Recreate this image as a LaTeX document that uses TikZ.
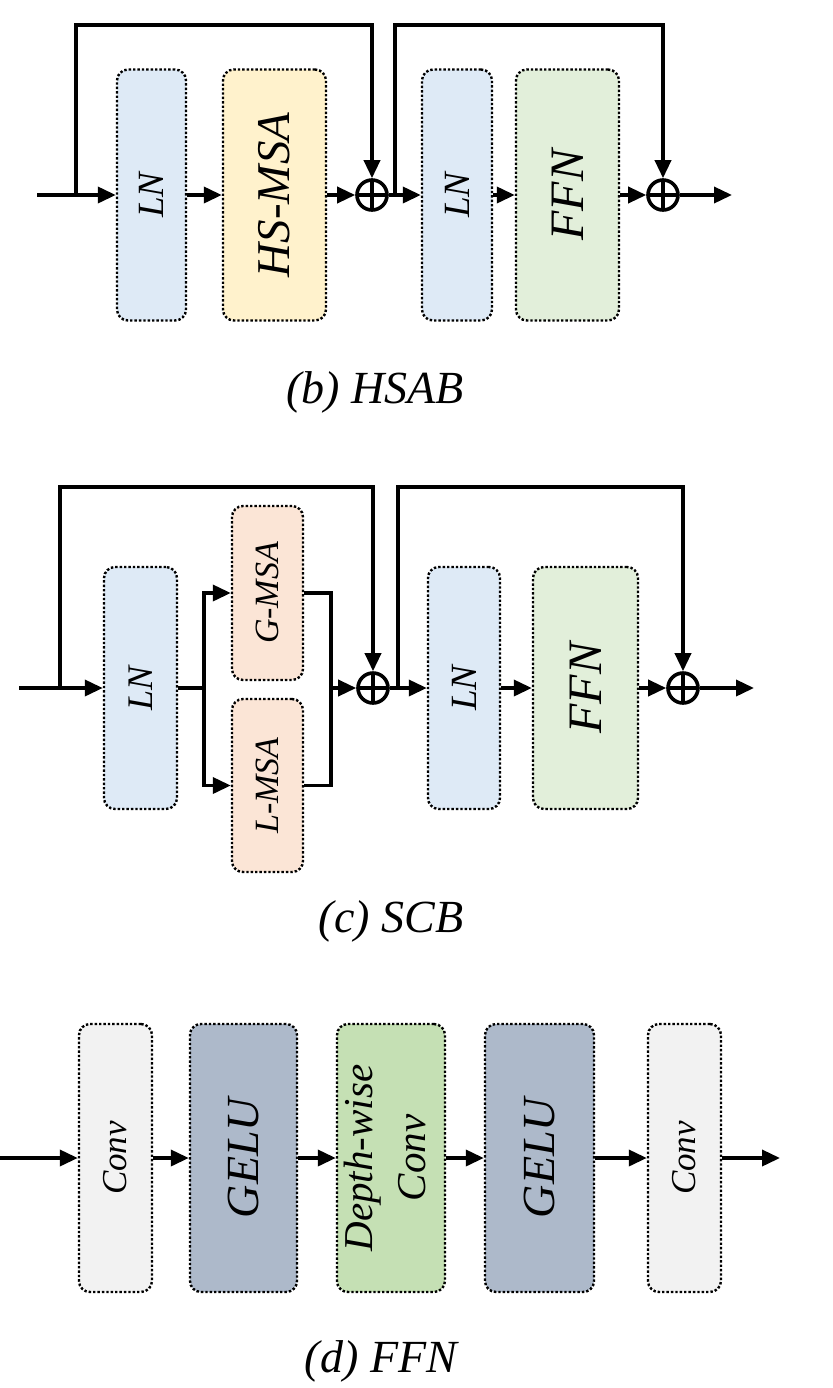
\documentclass[tikz,border=0pt]{standalone}
\usepackage{fontspec}
\usepackage{graphicx}
\setmainfont{Liberation Serif}
\usetikzlibrary{arrows.meta}
\definecolor{lnblue}{HTML}{DEEAF6}
\definecolor{msayel}{HTML}{FFF2CC}
\definecolor{ffngreen}{HTML}{E2EFDA}
\definecolor{msaorg}{HTML}{FBE5D6}
\definecolor{convgray}{HTML}{F2F2F2}
\definecolor{gelublue}{HTML}{ADB9CA}
\definecolor{dwgreen}{HTML}{C5E0B4}
\newcommand{\rtxt}[2]{\rotatebox{90}{\fontsize{#1}{#1}\selectfont\itshape #2}}
\begin{document}
\begin{tikzpicture}[x=0.5pt,y=-0.5pt,
  blk/.style={draw=black, line width=1.2pt, dash pattern=on 1.2pt off 1pt, rounded corners=5.5pt, inner sep=0pt, align=center},
  conn/.style={line width=1.8pt, -{Triangle[length=9pt,width=8pt]}},
  wire/.style={line width=1.8pt},
  plus/.style={circle, draw, line width=1.8pt, minimum size=15pt, inner sep=0pt,
    path picture={\draw[line width=1.8pt] (path picture bounding box.north) -- (path picture bounding box.south)
      (path picture bounding box.west) -- (path picture bounding box.east);}},
  captxt/.style={anchor=base, font=\fontsize{23}{23}\selectfont\itshape}
]
\useasboundingbox (0,0) rectangle (832,1388);

% ---------------- (b) HSAB ----------------
\coordinate (bin) at (37,195);
\coordinate (bs1) at (76,195);
\coordinate (bt1) at (76,25);
\node[blk, fill=lnblue, minimum width=34.5pt, minimum height=125.5pt] (bln1) at (151.5,195) {\rtxt{18.5}{LN}};
\node[blk, fill=msayel, minimum width=51.5pt, minimum height=125.5pt] (bmsa) at (274.5,195) {\rtxt{23.5}{HS-MSA}};
\node[plus] (bp1) at (372,195) {};
\coordinate (bs2) at (395,195);
\coordinate (bt2) at (395,25);
\node[blk, fill=lnblue, minimum width=35pt, minimum height=125.5pt] (bln2) at (457,195) {\rtxt{18.5}{LN}};
\node[blk, fill=ffngreen, minimum width=51.5pt, minimum height=125.5pt] (bffn) at (567.5,195) {\rtxt{24}{FFN}};
\node[plus] (bp2) at (663,195) {};
\coordinate (bout) at (732,195);

\draw[conn] (bin) -- (bln1);
\draw[conn] (bs1) -- (bt1) -| (bp1);
\draw[conn] (bln1) -- (bmsa);
\draw[conn] (bmsa) -- (bp1);
\draw[conn] (bp1) -- (bln2);
\draw[conn] (bs2) -- (bt2) -| (bp2);
\draw[conn] (bln2) -- (bffn);
\draw[conn] (bffn) -- (bp2);
\draw[conn] (bp2) -- (bout);
\node[captxt] (bcap) at (375,403) {(b) HSAB};

% ---------------- (c) SCB ----------------
\coordinate (cin) at (19,688);
\coordinate (cs1) at (60,688);
\coordinate (ct1) at (60,487);
\node[blk, fill=lnblue, minimum width=36.5pt, minimum height=121pt] (cln1) at (140.5,688) {\rtxt{18}{LN}};
\coordinate (cbr) at (204,688);
\node[blk, fill=msaorg, minimum width=35.5pt, minimum height=87pt] (cg) at (267.5,593) {\rtxt{17}{G-MSA}};
\node[blk, fill=msaorg, minimum width=35.5pt, minimum height=86.5pt] (cl) at (267.5,785.5) {\rtxt{17}{L-MSA}};
\coordinate (cm) at (331,688);
\node[plus] (cp1) at (373,688) {};
\coordinate (cs2) at (398,688);
\coordinate (ct2) at (398,487);
\node[blk, fill=lnblue, minimum width=36pt, minimum height=121pt] (cln2) at (464,688) {\rtxt{18.5}{LN}};
\node[blk, fill=ffngreen, minimum width=52.5pt, minimum height=121pt] (cffn) at (585.5,688) {\rtxt{24}{FFN}};
\node[plus] (cp2) at (683,688) {};
\coordinate (cout) at (754,688);

\draw[conn] (cin) -- (cln1);
\draw[conn] (cs1) -- (ct1) -| (cp1);
\draw[wire] (cln1) -- (cbr);
\draw[conn] (cbr) |- (cg);
\draw[conn] (cbr) |- (cl);
\draw[wire] (cg) -| (cm);
\draw[wire] (cl) -| (cm);
\draw[conn] (cm) -- (cp1);
\draw[conn] (cp1) -- (cln2);
\draw[conn] (cs2) -- (ct2) -| (cp2);
\draw[conn] (cln2) -- (cffn);
\draw[conn] (cffn) -- (cp2);
\draw[conn] (cp2) -- (cout);
\node[captxt] (ccap) at (391,932) {(c) SCB};

% ---------------- (d) FFN ----------------
\coordinate (din) at (0,1158);
\node[blk, fill=convgray, minimum width=36.5pt, minimum height=134pt] (dc1) at (115.5,1158) {\rtxt{17.5}{Conv}};
\node[blk, fill=gelublue, minimum width=53.5pt, minimum height=134pt] (dg1) at (243.5,1158) {\rtxt{23}{GELU}};
\node[blk, fill=dwgreen, minimum width=54pt, minimum height=134pt] (ddw) at (391,1158)
  {\rotatebox{90}{\fontsize{20.5}{20.5}\selectfont\itshape\begin{tabular}{@{}c@{}}Depth-wise\\[6pt]Conv\end{tabular}}};
\node[blk, fill=gelublue, minimum width=54.5pt, minimum height=134pt] (dg2) at (539.5,1158) {\rtxt{23}{GELU}};
\node[blk, fill=convgray, minimum width=36.5pt, minimum height=134pt] (dc2) at (684.5,1158) {\rtxt{17.5}{Conv}};
\coordinate (dout) at (780,1158);

\draw[conn] (din) -- (dc1);
\draw[conn] (dc1) -- (dg1);
\draw[conn] (dg1) -- (ddw);
\draw[conn] (ddw) -- (dg2);
\draw[conn] (dg2) -- (dc2);
\draw[conn] (dc2) -- (dout);
\node[captxt] (dcap) at (381,1372) {(d) FFN};
\end{tikzpicture}
\end{document}
